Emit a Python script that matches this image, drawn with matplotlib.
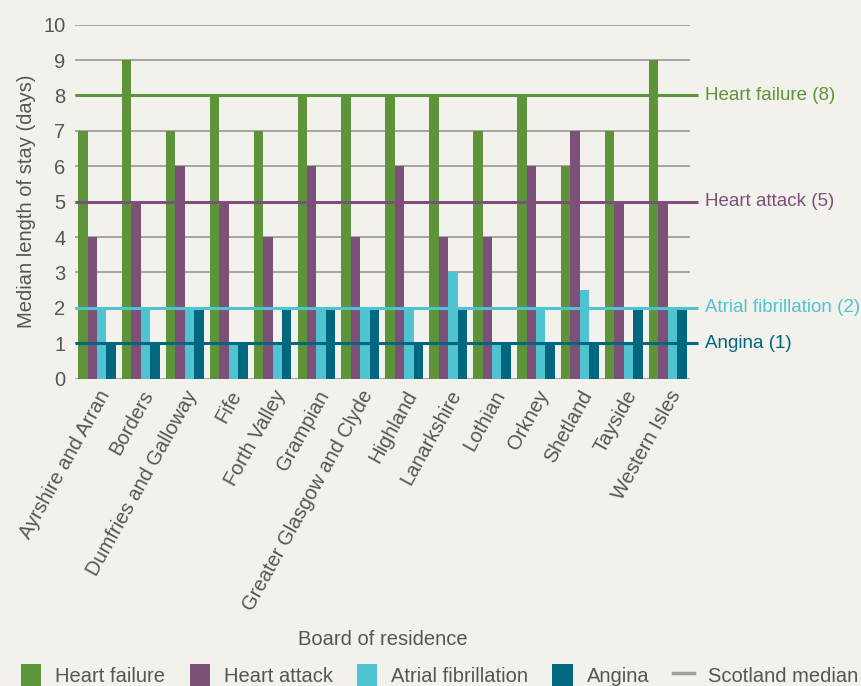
import numpy as np
import matplotlib.pyplot as plt
from matplotlib.patches import Patch
from matplotlib.lines import Line2D

# Data
boards = ["Ayrshire and Arran", "Borders", "Dumfries and Galloway", "Fife",
          "Forth Valley", "Grampian", "Greater Glasgow and Clyde", "Highland",
          "Lanarkshire", "Lothian", "Orkney", "Shetland", "Tayside", "Western Isles"]
heart_failure = [7, 9, 7, 8, 7, 8, 8, 8, 8, 7, 8, 6, 7, 9]
heart_attack = [4, 5, 6, 5, 4, 6, 4, 6, 4, 4, 6, 7, 5, 5]
atrial_fib = [2, 2, 2, 1, 1, 2, 2, 2, 3, 1, 2, 2.5, 1, 2]
angina = [1, 1, 2, 1, 2, 2, 2, 1, 2, 1, 1, 1, 2, 2]

series_names = ["Heart failure", "Heart attack", "Atrial fibrillation", "Angina"]
scotland_median = [8, 5, 2, 1]

bg = "#f2f1eb"
colors = ["#5d943a", "#7d5079", "#4fc4d0", "#00677e"]
text_grey = "#555555"
fs = 14.5

plt.rcParams['font.family'] = ['Liberation Sans', 'DejaVu Sans']

fig = plt.figure(figsize=(8.62, 6.86), dpi=100, facecolor=bg)
ax = fig.add_axes([0.087, 0.448, 0.713, 0.516], facecolor=bg)

x = np.arange(len(boards))
w = 0.215
all_series = [heart_failure, heart_attack, atrial_fib, angina]
for i, (vals, c) in enumerate(zip(all_series, colors)):
    ax.bar(x + (i - 1.5) * w, vals, width=w, color=c, zorder=3)

ax.set_xlim(-0.5, len(boards) - 0.5)
ax.set_ylim(0, 10)
ax.set_yticks(range(0, 11))
ax.yaxis.grid(True, color="#9e9e9e", linewidth=1.3, zorder=0)
ax.set_axisbelow(True)
for s in ax.spines.values():
    s.set_visible(False)
ax.tick_params(axis="both", length=0, labelsize=fs, labelcolor=text_grey)
ax.tick_params(axis="y", pad=7)
ax.tick_params(axis="x", pad=6)

ax.set_xticks(x)
ax.set_xticklabels(boards, rotation=61, ha="right", rotation_mode="anchor")

# Scotland median lines with labels
for val, name, c in zip(scotland_median, series_names, colors):
    ax.plot([-0.5, len(boards) - 0.3], [val, val], color=c, linewidth=2.2,
            zorder=4, clip_on=False, solid_capstyle="butt")
    ax.text(len(boards) - 0.15, val, f"{name} ({val})", color=c, fontsize=13.5,
            va="center", ha="left")

ax.set_ylabel("Median length of stay (days)", fontsize=fs, color=text_grey, labelpad=5)
fig.text(0.444, 0.06, "Board of residence", fontsize=fs, color=text_grey, ha="center")

handles = [Patch(facecolor=c) for c in colors]
handles.append(Line2D([0], [0], color="#9e9e9e", linewidth=2.5))
leg = fig.legend(handles, series_names + ["Scotland median"], loc="lower center",
                 bbox_to_anchor=(0.51, -0.028), ncol=5, frameon=False, fontsize=fs,
                 handlelength=1.0, handleheight=1.4, handletextpad=0.7, columnspacing=1.2)
for t in leg.get_texts():
    t.set_color(text_grey)

fig.savefig("out.png", dpi=100, facecolor=bg)
